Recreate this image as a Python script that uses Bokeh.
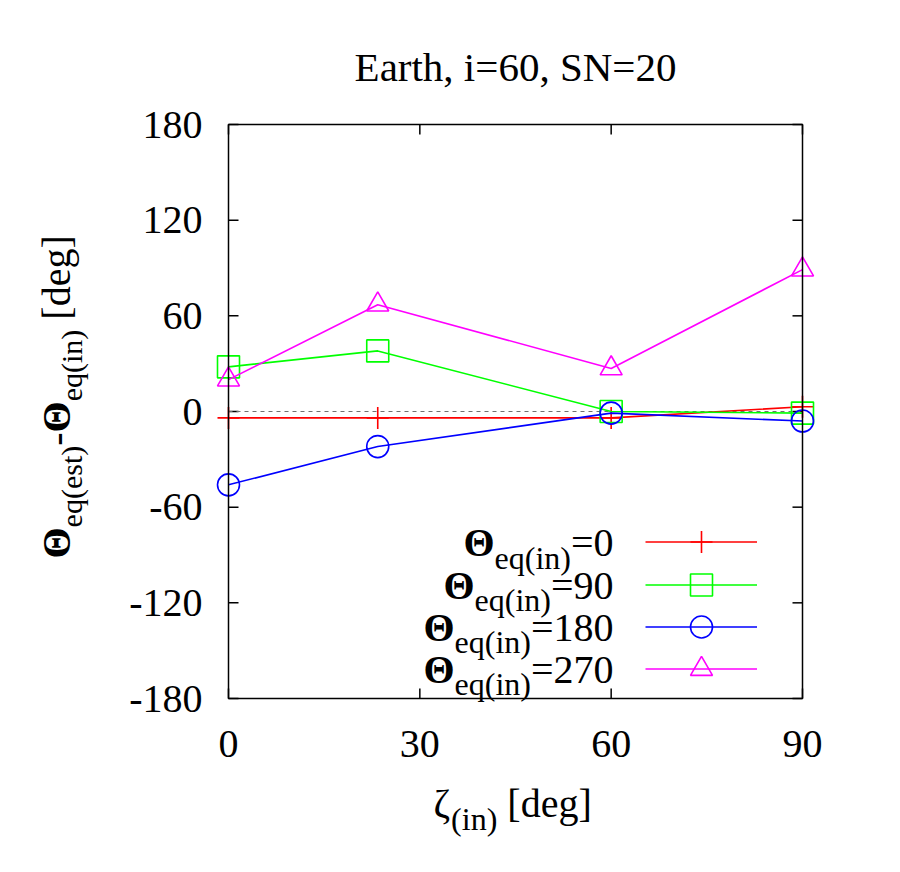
import math
from bokeh.plotting import figure
from bokeh.models import Range1d, Label, Legend, LegendItem, BoxAnnotation
from bokeh.core.properties import value
from bokeh.embed import file_html
from bokeh.resources import INLINE

# ---------------- data ----------------
zeta = [0, 23.4, 60, 90]
theta_0 = [-4, -4, -4, 3]
theta_90 = [28, 38, 0, -1]
theta_180 = [-46, -22, -1, -6]
theta_270 = [20, 67, 27, 89]
series_values = ["0", "90", "180", "270"]
x_ticks = [0, 30, 60, 90]
y_ticks = [-180, -120, -60, 0, 60, 120, 180]
title_text = "Earth, i=60, SN=20"

XMIN, XMAX = 0, 90
YMIN, YMAX = -180, 180

# ---------------- layout (pixels) ----------------
W, H = 892, 864                 # canvas size
BOX_L, BOX_R = 228, 802         # plot box edges on canvas
BOX_T, BOX_B = 124, 698
FONT = "Liberation Serif"
BASE_ADJ = 10                   # baseline correction (px, upward)

ppx = (BOX_R - BOX_L) / (XMAX - XMIN)
ppy = (BOX_B - BOX_T) / (YMAX - YMIN)
x0 = XMIN - BOX_L / ppx
y1 = YMAX + BOX_T / ppy

p = figure(width=W, height=H, min_border=0,
           x_range=Range1d(x0, x0 + W / ppx),
           y_range=Range1d(y1 - H / ppy, y1),
           x_axis_location=None, y_axis_location=None,
           output_backend="svg", toolbar_location=None)
p.outline_line_color = None
p.grid.visible = False
p.background_fill_color = "white"
p.border_fill_color = "white"

# plot box
p.add_layout(BoxAnnotation(left=XMIN, right=XMAX, bottom=YMIN, top=YMAX,
                           fill_color=None, fill_alpha=0,
                           line_color="black", line_alpha=1.0,
                           line_width=1.5, level="overlay"))

# ticks (inward, mirrored)
TICK = 10
tx = TICK / ppx
ty = TICK / ppy
nx, ny = len(x_ticks), len(y_ticks)
p.segment(x0=x_ticks, x1=x_ticks, y0=[YMIN] * nx, y1=[YMIN + ty] * nx,
          line_color="black", line_width=1.5)
p.segment(x0=x_ticks, x1=x_ticks, y0=[YMAX - ty] * nx, y1=[YMAX] * nx,
          line_color="black", line_width=1.5)
p.segment(x0=[XMIN] * ny, x1=[XMIN + tx] * ny, y0=y_ticks, y1=y_ticks,
          line_color="black", line_width=1.5)
p.segment(x0=[XMAX - tx] * ny, x1=[XMAX] * ny, y0=y_ticks, y1=y_ticks,
          line_color="black", line_width=1.5)

# tick labels
p.text(x=[XMIN] * ny, y=y_ticks, text=[str(t) for t in y_ticks],
       x_offset=-26, text_align="right", text_baseline="middle",
       text_font=value(FONT), text_font_size="40px", text_color="black")
p.text(x=x_ticks, y=[YMIN] * nx, text=[str(t) for t in x_ticks],
       y_offset=55 - BASE_ADJ, text_align="center",
       text_baseline="alphabetic",
       text_font=value(FONT), text_font_size="40px", text_color="black")

# zero line
p.line([XMIN, XMAX], [0, 0], line_color="#707070", line_width=1.2,
       line_dash="4 4")

# ---------------- series ----------------
specs = [
    (theta_0, "#ff0000", "cross"),
    (theta_90, "#00ff00", "square"),
    (theta_180, "#0000ff", "circle"),
    (theta_270, "#ff00ff", "triangle"),
]
LEG_X = 645
LEG_ROWS = [541.5, 584, 626, 668]   # sample centres (canvas y)
GH = 55
for (vals, col, mk), ry in zip(specs, LEG_ROWS):
    lr = p.line(zeta, vals, line_color=col, line_width=1.6)
    sr = p.scatter(zeta, vals, marker=mk, size=22, line_color=col,
                   fill_color=None, line_width=1.6)
    leg = Legend(items=[LegendItem(label=" ", renderers=[lr, sr])],
                 location=(LEG_X, H - ry - GH / 2), glyph_width=112,
                 glyph_height=GH, spacing=0, padding=0, margin=0,
                 label_standoff=0, label_width=0, label_height=0,
                 label_text_font_size="1px", background_fill_alpha=0,
                 border_line_alpha=0)
    p.add_layout(leg)

# ---------------- texts ----------------
CW = {'Θ': 0.722, 'ζ': 0.44, 'e': 0.444, 'q': 0.5, '(': 0.333, ')': 0.333,
      's': 0.389, 't': 0.278, 'i': 0.278, 'n': 0.5, '-': 0.333, ' ': 0.25,
      '[': 0.333, ']': 0.333, 'd': 0.5, 'g': 0.5, '=': 0.564}


def tw(s, size, bold=False):
    w = 0.0
    for c in s:
        if c == 'Θ' and bold:
            w += 0.778
        else:
            w += CW.get(c, 0.5)
    return w * size


def label(x, y, s, size, bold=False, angle=0.0, align="left"):
    # x, y: canvas pixel coordinates (y downward) of the text baseline
    if angle:
        x -= BASE_ADJ
    else:
        y -= BASE_ADJ
    p.add_layout(Label(x=x, y=H - y, x_units="screen", y_units="screen",
                       text=s, text_font=FONT, text_font_size=f"{size}px",
                       text_font_style="bold" if bold else "normal",
                       text_align=align, text_baseline="alphabetic",
                       angle=angle, text_color="black"))


def compose(x, y, pieces, vertical=False):
    pos = 0.0
    for s, size, bold, shift in pieces:
        lead = len(s) - len(s.lstrip(' '))
        pos += tw(' ' * lead, size)
        s2 = s.lstrip(' ')
        if vertical:
            label(x + shift, y - pos, s2, size, bold, angle=math.pi / 2)
        else:
            label(x + pos, y + shift, s2, size, bold)
        pos += tw(s2, size, bold)
    return pos


# title
label(515, 76, title_text, 41, align="center")

# x axis title
compose(433, 813, [("ζ", 40, False, 0), ("(in)", 32, False, 15),
                   (" [deg]", 40, False, 0)])

# y axis title (rotated)
compose(66, 558, [("Θ", 40, True, 0), ("eq(est)", 30, False, 15),
                  ("-", 40, False, 0), ("Θ", 40, True, 0),
                  ("eq(in)", 30, False, 15), (" [deg]", 40, False, 0)],
        vertical=True)

# legend texts (right aligned)
for sv, ry in zip(series_values, LEG_ROWS):
    pieces = [("Θ", 40, True, 0), ("eq(in)", 32, False, 15),
              ("=" + sv, 40, False, 0)]
    total = sum(tw(s, sz, b) for s, sz, b, _ in pieces)
    compose(613 - total, ry + 10.5, pieces)

open("out.html", "w").write(file_html(p, INLINE))
